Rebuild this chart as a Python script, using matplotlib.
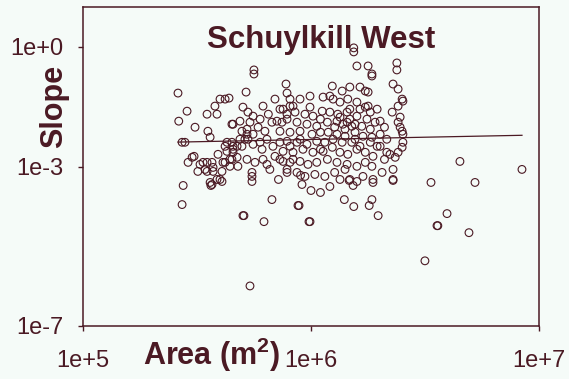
"""Schuylkill West: channel slope against drainage area, log-log scatter with fitted trend."""
import numpy as np
import matplotlib
matplotlib.use("Agg")
import matplotlib.pyplot as plt

INK = "#4b1a24"
BG = "#f5fbf8"

# drainage area (m^2) and slope, one entry per reach
area_m2 = [
    2.61e5, 2.86e5, 2.63e5, 2.72e5, 2.80e5, 3.10e5, 5.19e5, 5.62e5, 5.62e5, 3.99e5,
    4.20e5, 4.37e5, 3.79e5, 3.50e5, 3.87e5, 5.03e5, 5.29e5, 5.57e5, 6.16e5, 6.95e5,
    7.77e5, 7.85e5, 8.09e5, 8.34e5, 4.55e5, 4.88e5, 5.24e5, 5.57e5, 5.86e5, 6.28e5,
    6.74e5, 7.09e5, 7.46e5, 7.85e5, 7.54e5, 3.53e5, 3.61e5, 4.28e5, 4.55e5, 4.88e5,
    5.29e5, 5.57e5, 5.98e5, 6.41e5, 6.81e5, 7.31e5, 8.09e5, 3.07e5, 2.89e5, 3.26e5,
    3.50e5, 3.43e5, 3.72e5, 3.91e5, 4.11e5, 4.41e5, 4.55e5, 4.74e5, 5.24e5, 5.68e5,
    6.16e5, 6.41e5, 6.95e5, 7.54e5, 7.85e5, 8.34e5, 8.68e5, 2.75e5, 3.61e5, 3.99e5,
    5.51e5, 5.51e5, 2.72e5, 3.64e5, 4.07e5, 5.03e5, 5.08e5, 6.22e5, 6.74e5, 5.40e5, 8.77e5,
    3.36e5, 3.19e5, 3.50e5, 3.68e5, 3.72e5, 3.87e5, 3.68e5, 4.07e5, 4.20e5, 4.41e5,
    4.50e5, 4.78e5, 4.55e5, 4.28e5, 4.20e5, 4.50e5, 4.74e5, 4.50e5, 4.98e5, 4.98e5,
    5.13e5, 5.24e5, 5.40e5, 5.51e5, 3.01e5,
    9.13e5, 1.00e6, 1.10e6, 8.86e5, 9.80e5, 9.90e5, 1.40e6, 1.54e6, 1.53e6, 1.47e6,
    1.80e6, 1.85e6, 1.97e6, 1.87e6, 2.29e6, 2.29e6, 3.36e6, 5.24e6, 3.95e6, 3.57e6,
    3.60e6, 4.93e6, 3.16e6, 4.50e6, 8.42e6,
    1.54e6, 1.54e6, 1.59e6, 1.78e6, 1.85e6, 1.85e6, 2.38e6, 2.38e6, 1.24e6, 1.37e6,
    1.48e6, 1.64e6, 1.73e6, 1.78e6, 2.29e6, 2.41e6, 2.51e6, 2.53e6, 2.27e6, 2.41e6,
    2.46e6, 2.41e6, 2.46e6, 2.51e6, 2.53e6, 2.53e6, 2.51e6, 2.41e6, 2.34e6, 2.22e6, 2.01e6, 2.01e6,
    8.95e5, 9.90e5, 1.13e6, 1.21e6, 1.25e6, 1.34e6, 1.45e6, 1.59e6, 1.64e6, 1.78e6, 1.82e6, 1.95e6,
    7.31e5, 8.09e5, 8.51e5, 9.41e5, 1.02e6, 1.12e6, 1.21e6, 1.31e6, 1.44e6, 1.59e6, 1.76e6, 1.91e6,
    7.85e5, 8.68e5, 9.60e5, 1.06e6, 1.18e6, 1.30e6, 1.44e6, 1.51e6, 1.67e6, 1.82e6,
    7.31e5, 8.09e5, 8.95e5, 1.01e6, 1.10e6, 1.19e6, 1.30e6, 1.41e6, 1.56e6, 1.69e6, 1.85e6, 2.01e6, 2.15e6,
    7.85e5, 8.68e5, 9.60e5, 1.06e6, 1.15e6, 1.25e6, 1.37e6, 1.51e6, 1.64e6, 1.82e6, 1.95e6,
    7.54e5, 8.34e5, 9.22e5, 1.02e6, 1.13e6, 1.24e6, 1.34e6, 1.45e6, 1.59e6, 1.73e6, 1.87e6, 2.15e6,
    7.31e5, 8.09e5, 8.95e5, 9.70e5, 1.06e6, 1.18e6, 1.30e6, 1.44e6, 1.59e6, 1.73e6, 1.85e6, 2.29e6,
    7.85e5, 9.00e5, 9.41e5, 1.04e6, 1.15e6, 1.27e6, 1.41e6, 1.48e6, 1.59e6, 1.69e6, 1.87e6, 2.05e6,
    1.34e6, 1.38e6, 1.48e6, 1.41e6, 1.56e6, 1.27e6, 1.48e6, 1.10e6, 9.90e5, 8.95e5, 1.56e6, 1.73e6,
    2.10e6, 2.10e6, 5.98e5, 6.50e5, 6.10e5, 6.60e5, 7.20e5, 1.10e6, 1.21e6, 1.34e6,
]
slope = [
    0.0694, 0.0244, 0.0137, 0.00405, 0.00405, 0.00966, 0.0735, 0.264, 0.209, 0.049,
    0.049, 0.0519, 0.0327, 0.0205, 0.0205, 0.0308, 0.0231, 0.0183, 0.0327, 0.049,
    0.117, 0.0694, 0.049, 0.0327, 0.0115, 0.0137, 0.00861, 0.00644, 0.00966, 0.00766,
    0.0129, 0.0137, 0.0129, 0.0205, 0.0274, 0.00766, 0.00541, 0.00405, 0.00321, 0.00482,
    0.00482, 0.0036, 0.00405, 0.00482, 0.00321, 0.00405, 0.00321, 0.0018, 0.00127, 0.00113,
    0.00127, 0.000845, 0.000949, 0.00202, 0.00127, 0.00151, 0.00227, 0.0017, 0.00151, 0.00127,
    0.00151, 0.00113, 0.0018, 0.00134, 0.000845, 0.00151, 0.00071, 0.000334, 0.000398, 0.000473,
    0.000564, 0.000421, 0.000111, 0.000334, 0.000421, 5.86e-5, 5.86e-5, 4.14e-5, 0.000148, 1.01e-6, 0.000105,
    0.00127, 0.000753, 0.000753, 0.00127, 0.000753, 0.000473, 0.000354, 0.000753, 0.00127, 0.00101,
    0.00151, 0.00101, 0.0027, 0.0024, 0.00321, 0.00405, 0.00321, 0.0115, 0.00766, 0.00321,
    0.00482, 0.00644, 0.0129, 0.00071, 0.0017,
    0.000354, 0.00025, 0.000223, 0.000105, 4.14e-5, 4.14e-5, 0.000148, 9.89e-5, 0.000334, 0.000447,
    0.000105, 0.000148, 5.86e-5, 0.000398, 0.000447, 0.000473, 0.000398, 0.000398, 6.59e-5, 3.28e-5,
    3.28e-5, 2.19e-5, 4.31e-6, 0.00134, 0.000845,
    0.944, 0.748, 0.332, 0.332, 0.209, 0.186, 0.395, 0.264, 0.104, 0.078,
    0.0983, 0.0983, 0.078, 0.0735, 0.117, 0.0875, 0.049, 0.0436, 0.0231, 0.0327,
    0.0173, 0.0129, 0.00966, 0.00766, 0.00644, 0.00405, 0.00303, 0.00227, 0.0017, 0.00202, 0.00321, 0.0137,
    0.049, 0.0583, 0.055, 0.0583, 0.049, 0.0412, 0.049, 0.0412, 0.0274, 0.0327, 0.0231, 0.0274,
    0.0274, 0.0327, 0.0231, 0.0205, 0.0183, 0.0244, 0.0231, 0.0205, 0.0231, 0.0183, 0.0154, 0.0129,
    0.0154, 0.0129, 0.0115, 0.0102, 0.0129, 0.0137, 0.0129, 0.0102, 0.0102, 0.00861,
    0.00766, 0.00723, 0.00766, 0.00644, 0.00723, 0.00723, 0.00644, 0.00573, 0.00723, 0.00573, 0.00541, 0.00644, 0.00482,
    0.00429, 0.00405, 0.0036, 0.00429, 0.00405, 0.00482, 0.00405, 0.00405, 0.00321, 0.00405, 0.00321,
    0.0024, 0.00227, 0.0027, 0.00227, 0.0024, 0.00303, 0.00227, 0.00202, 0.0027, 0.00227, 0.0018, 0.00227,
    0.00151, 0.00127, 0.00134, 0.00113, 0.00127, 0.00151, 0.00127, 0.00113, 0.00101, 0.00127, 0.00101, 0.000845,
    0.00071, 0.0006, 0.000564, 0.000632, 0.000564, 0.00071, 0.000845, 0.000473, 0.000421, 0.000564, 0.000473, 0.00071,
    0.0173, 0.0115, 0.0154, 0.00861, 0.0115, 0.00966, 0.0274, 0.0154, 0.0308, 0.00482, 0.00482, 0.0308,
    0.00966, 0.00151, 0.0154, 0.0205, 0.0027, 0.000845, 0.000473, 0.0027, 0.000315, 0.000473,
]

# trend line in log space: log10(S) = fit_a + fit_b * log10(A)
fit_a = -3.0
fit_b = 0.113

x_ticks = [1e5, 1e6, 1e7]
x_labels = ["1e+5", "1e+6", "1e+7"]
y_ticks = [1e-7, 1e-3, 1e0]
y_labels = ["1e-7", "1e-3", "1e+0"]

plt.rcParams["font.family"] = ["Liberation Sans", "DejaVu Sans"]
plt.rcParams["mathtext.fontset"] = "custom"
plt.rcParams["mathtext.rm"] = "Liberation Sans"
plt.rcParams["mathtext.bf"] = "Liberation Sans:bold"

fig = plt.figure(figsize=(5.69, 3.79), dpi=100, facecolor=BG)
ax = fig.add_axes([83 / 569, 53 / 379, 456 / 569, 319 / 379], facecolor=BG)

ax.scatter(area_m2, slope, s=31, facecolors="none", edgecolors=INK, linewidths=0.8, zorder=3)

xa = np.array([min(area_m2), max(area_m2)])
ax.plot(xa, 10 ** (fit_a + fit_b * np.log10(xa)), color=INK, lw=0.9, zorder=2)

ax.set_xscale("log")
ax.set_yscale("log")
ax.set_xlim(1e5, 1e7)
ax.set_ylim(1e-7, 1e1)
ax.set_xticks(x_ticks, x_labels)
ax.set_yticks(y_ticks, y_labels)
ax.minorticks_off()
ax.tick_params(axis="both", colors=INK, labelsize=17, length=3.6, width=1.0)
ax.tick_params(axis="y", pad=10.5)
ax.tick_params(axis="x", pad=14)
for sp in ax.spines.values():
    sp.set_color(INK)
    sp.set_linewidth(1.1)

ax.text(0.522, 0.871, "Schuylkill West", transform=ax.transAxes, ha="center",
        va="baseline", fontsize=22.5, fontweight="bold", color=INK)
fig.text(54 / 569, 1 - 106 / 379, "Slope", rotation=90, ha="center", va="center",
         fontsize=22, fontweight="bold", color=INK)
fig.text(143 / 569, 14 / 379, r"Area (m$^\mathbf{2}$)", ha="left", va="baseline",
         fontsize=22, fontweight="bold", color=INK)

fig.savefig("out.png", dpi=100, facecolor=BG)
